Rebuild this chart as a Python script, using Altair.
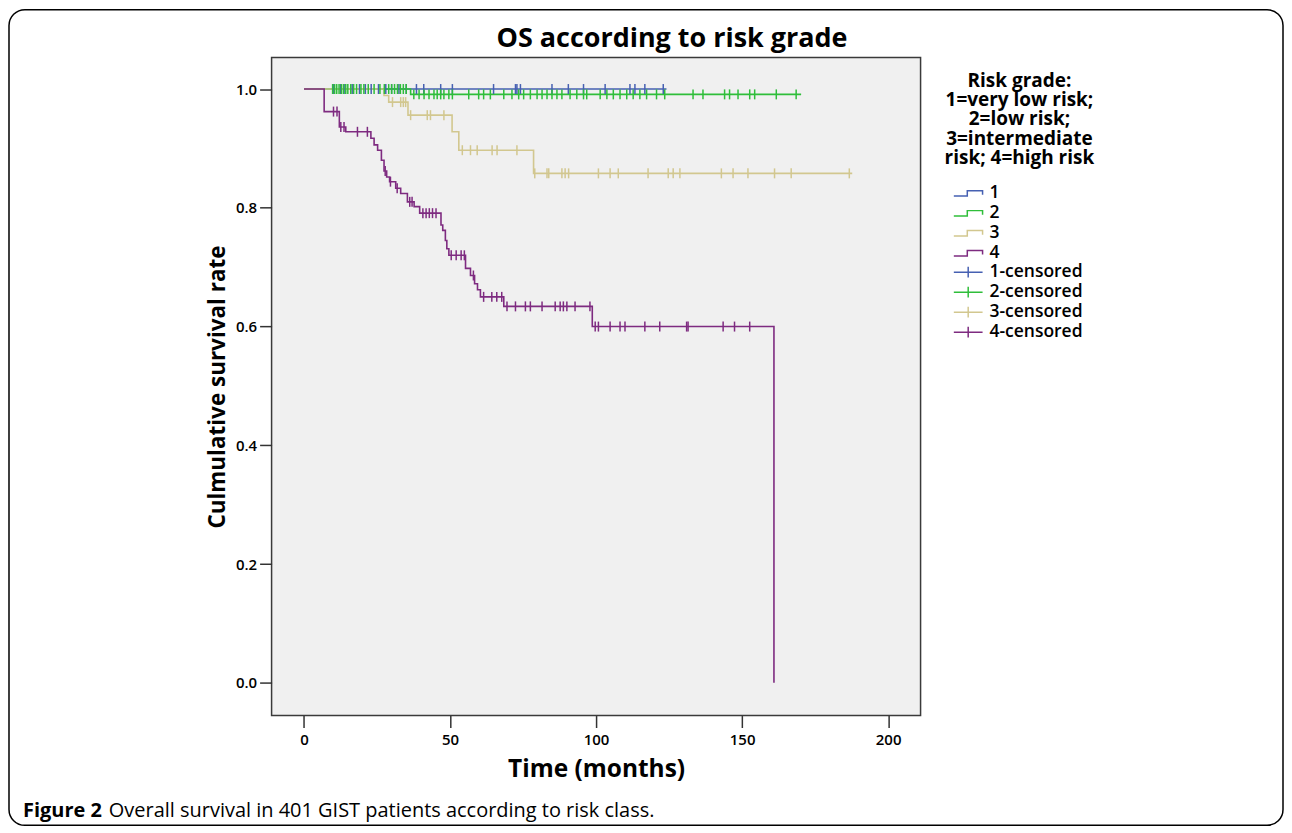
import altair as alt
import pandas as pd

# ---- Kaplan-Meier step curves (time in months) ----
g1_time = [0, 124.1]
g1_surv = [1.0, 1.0]
g1_cens = [10, 12.5, 14, 16.5, 19, 21, 23, 25.5, 28, 30, 32.5, 35, 38.5, 41, 46.8, 50.8,
           64.9, 72.4, 72.9, 74.1, 84.9, 90.5, 95.7, 103.1, 111.6, 113.3, 116.7, 123.0]

g2_time = [0, 36.5, 170.2]
g2_surv = [1.0, 0.991, 0.991]
g2_cens = [9.8, 10.5, 11.2, 12.0, 12.8, 13.5, 14.3, 15.0, 16.0, 17.0, 18.0, 19.5, 20.5, 22.0,
           24.0, 26.0, 27.5, 29.0, 30.0, 31.0, 32.0, 33.0, 34.0, 35.0,
           37.6, 39.4, 41.1, 42.8, 44.5, 45.6, 46.8, 47.9, 49.6, 50.8, 56.4, 59.8, 61.5, 63.8,
           68.4, 71.2, 73.5, 75.2, 77.5, 79.8, 81.5, 83.2, 84.9, 86.6, 88.3, 91.1, 93.4, 95.7,
           96.8, 101.4, 103.7, 105.9, 108.2, 110.5, 112.7, 115.0, 117.3, 120.7, 123.5, 133.2,
           136.6, 144.0, 145.7, 148.6, 152.6, 154.3, 161.7, 168.5]

g3_time = [0, 27.4, 29.0, 35.6, 50.7, 53.0, 78.6, 187.7]
g3_surv = [1.0, 0.989, 0.978, 0.956, 0.928, 0.897, 0.858, 0.858]
g3_cens = [30.3, 33.1, 34.0, 34.8, 36.5, 42.2, 43.3, 47.9, 54.2, 57.0, 59.3, 64.4, 66.1, 72.9,
           79.0, 83.2, 83.8, 88.3, 89.4, 90.6, 100.8, 104.8, 107.6, 117.8, 124.7, 126.4, 128.7,
           142.9, 146.9, 152.0, 161.1, 166.8, 186.7]

g4_time = [0, 6.9, 12.1, 14.3, 22.9, 24.0, 25.2, 26.5, 27.4, 28.3, 29.3, 31.4, 33.1, 35.4,
           37.7, 39.6, 46.9, 47.5, 48.4, 48.9, 49.6, 55.3, 57.0, 58.4, 59.4, 60.4, 68.4, 98.7, 160.9]
g4_surv = [1.0, 0.962, 0.936, 0.928, 0.917, 0.906, 0.897, 0.880, 0.862, 0.852, 0.844, 0.833,
           0.824, 0.810, 0.802, 0.791, 0.771, 0.762, 0.745, 0.731, 0.720, 0.698, 0.686, 0.672,
           0.662, 0.650, 0.634, 0.600, 0.0]
g4_cens = [10.1, 11.3, 12.6, 13.7, 18.3, 21.7, 27.8, 29.6, 31.9, 36.2, 37.0, 40.7, 41.8, 42.9,
           44.0, 45.2, 50.4, 52.1, 53.8, 54.9, 58.0, 61.5, 64.3, 66.0, 67.7, 69.5, 72.4, 75.8,
           77.5, 81.5, 86.0, 87.7, 88.8, 90.0, 92.8, 97.9, 99.7, 100.8, 104.8, 108.2, 109.9,
           116.7, 121.8, 131.0, 131.5, 143.5, 147.4, 152.6]

groups = ["1", "2", "3", "4"]
censored_names = ["1-censored", "2-censored", "3-censored", "4-censored"]
colors = ["#4660b2", "#2fbe3a", "#d2c78f", "#7e2b80"]

legend_title = ["Risk grade:", "1=very low risk;", "2=low risk;", "3=intermediate", "risk; 4=high risk"]
x_ticks = [0, 50, 100, 150, 200]
y_ticks = [0.0, 0.2, 0.4, 0.6, 0.8, 1.0]
chart_title = ["OS according to risk grade"]
x_title = "Time (months)"
y_title = "Culmulative survival rate"
caption_bold = ["Figure 2"]
caption_rest = ["Overall survival in 401 GIST patients according to risk class."]

curves = [(g1_time, g1_surv, g1_cens), (g2_time, g2_surv, g2_cens),
          (g3_time, g3_surv, g3_cens), (g4_time, g4_surv, g4_cens)]


def level(ts, ss, t):
    idx = max(i for i, tt in enumerate(ts) if tt <= t)
    return ss[idx]


line_rows, cens_rows = [], []
for g, cg, (ts, ss, cs) in zip(groups, censored_names, curves):
    for t, s in zip(ts, ss):
        line_rows.append({"time": t, "surv": s, "series": g})
    for t in cs:
        cens_rows.append({"time": t, "surv": level(ts, ss, t), "cseries": cg})
df_lines = pd.DataFrame(line_rows)
df_cens = pd.DataFrame(cens_rows)

FONT = "Open Sans"
STEP_PATH = "M-2.3,0.3L-0.8,0.3L-0.8,-0.3L0.9,-0.3L0.9,0.15"
PLUS_PATH = "M-2.3,0L0.9,0M-0.7,-0.6L-0.7,0.6"
TICK_PATH = "M0,-1L0,1"

xscale = alt.Scale(domain=[-11.1, 211.1], nice=False, zero=False)
yscale = alt.Scale(domain=[-0.055, 1.053], nice=False, zero=False)

xaxis = alt.Axis(values=x_ticks, format="d", tickSize=12, tickWidth=1.5, tickColor="#333333",
                 domain=False, grid=False, labelFontSize=15, labelFontWeight=600, labelFont=FONT,
                 labelColor="black", labelPadding=5, title=x_title, titleFontSize=24.5,
                 titleFontWeight="bold", titleFont=FONT, titleColor="black", titlePadding=10)
yaxis = alt.Axis(values=y_ticks, format=".1f", tickSize=12, tickWidth=1.5, tickColor="#333333",
                 domain=False, grid=False, labelFontSize=15, labelFontWeight=600, labelFont=FONT,
                 labelColor="black", labelPadding=3, title=y_title, titleFontSize=22.5,
                 titleFontWeight="bold", titleFont=FONT, titleColor="black", titlePadding=6)

common_legend = dict(orient="none", padding=0, symbolSize=324, symbolStrokeWidth=1.5,
                     symbolOffset=32, labelOffset=5, labelFontSize=17.5, labelFontWeight=600,
                     labelFont=FONT, labelColor="black", rowPadding=1, legendX=662, title=None)

lines = alt.Chart(df_lines).mark_line(interpolate="step-after", strokeWidth=1.6).encode(
    x=alt.X("time:Q", scale=xscale, axis=xaxis),
    y=alt.Y("surv:Q", scale=yscale, axis=yaxis),
    color=alt.Color("series:N", scale=alt.Scale(domain=groups, range=colors),
                    legend=alt.Legend(symbolType=STEP_PATH, legendY=126, **common_legend)),
)

cens = alt.Chart(df_cens).mark_point(shape=TICK_PATH, size=100, filled=False, strokeWidth=1.5,
                                     opacity=1).encode(
    x=alt.X("time:Q", scale=xscale),
    y=alt.Y("surv:Q", scale=yscale),
    color=alt.Color("cseries:N", scale=alt.Scale(domain=censored_names, range=colors),
                    legend=alt.Legend(symbolType=PLUS_PATH, legendY=205, **common_legend)),
)

border = alt.Chart(pd.DataFrame({"k": [0]})).mark_rect(
    filled=False, stroke="black", strokeWidth=1.5, cornerRadius=16
).encode(x=alt.value(-263), x2=alt.value(1013), y=alt.value(-48), y2=alt.value(769))

title_txt = alt.Chart(pd.DataFrame({"t": chart_title})).mark_text(
    align="center", baseline="middle", fontSize=27, fontWeight="bold", font=FONT, color="black"
).encode(x=alt.value(401), y=alt.value(-19), text="t:N")

legend_head = alt.Chart(pd.DataFrame({"t": ["\n".join(legend_title)]})).mark_text(
    align="center", baseline="top", fontSize=19, fontWeight="bold", font=FONT, color="black",
    lineBreak="\n", lineHeight=19.5
).encode(x=alt.value(749), y=alt.value(14), text="t:N")

cap1 = alt.Chart(pd.DataFrame({"t": caption_bold})).mark_text(
    align="left", baseline="alphabetic", fontSize=20, fontWeight="bold", font=FONT, color="black"
).encode(x=alt.value(-249), y=alt.value(761), text="t:N")

cap2 = alt.Chart(pd.DataFrame({"t": caption_rest})).mark_text(
    align="left", baseline="alphabetic", fontSize=20, font=FONT, color="black"
).encode(x=alt.value(-163), y=alt.value(761), text="t:N")

chart = alt.layer(border, lines, cens, title_txt, legend_head, cap1, cap2).resolve_scale(
    color="independent"
).properties(
    width=650, height=659, padding=0,
).configure_view(fill="#f0f0f0", stroke="#3a3a3a", strokeWidth=1.5)

chart.save("out.html", embed_options={"renderer": "svg", "actions": False})
